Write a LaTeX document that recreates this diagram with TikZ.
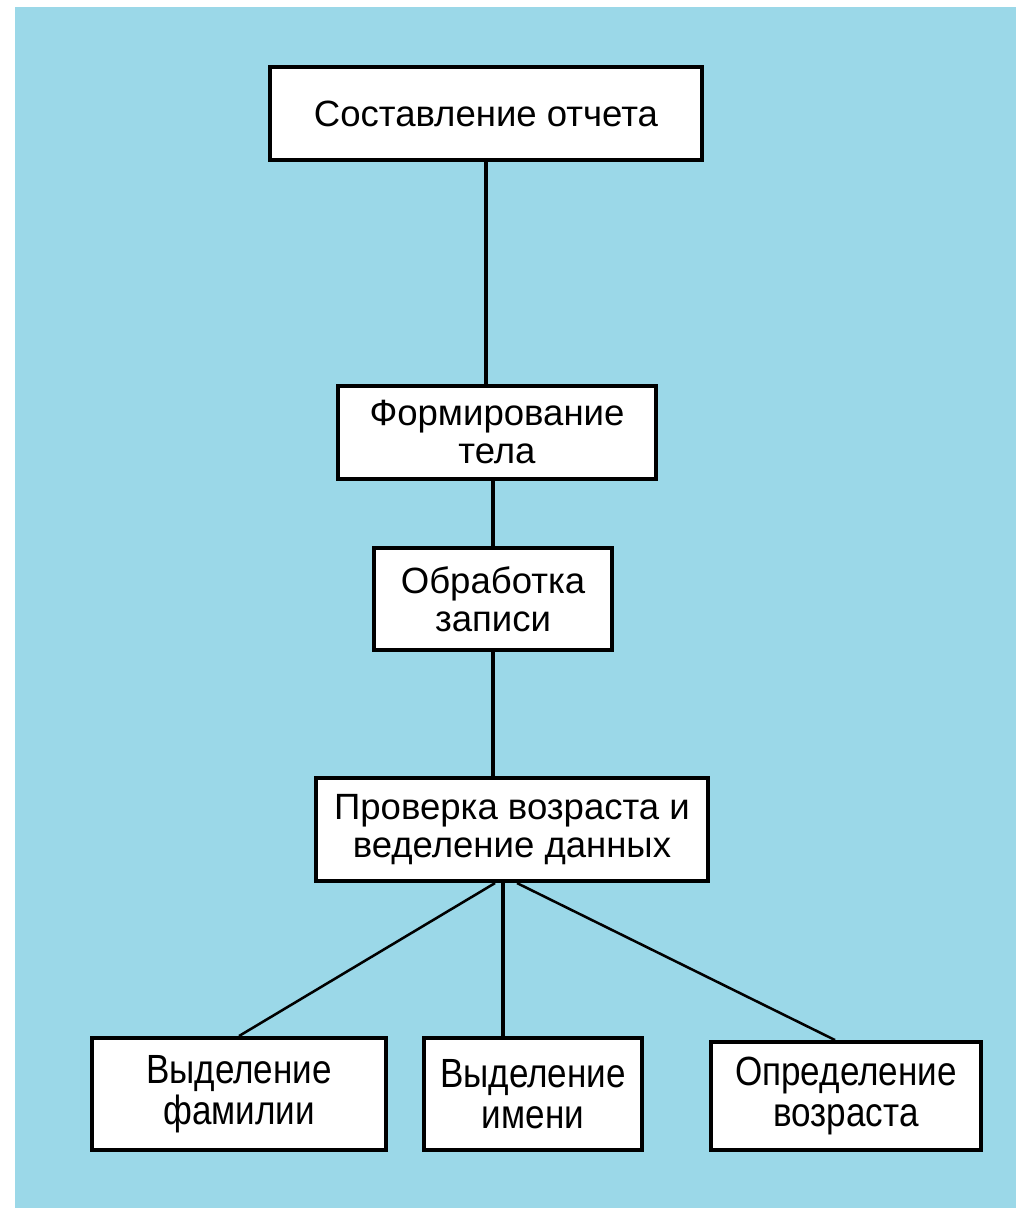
\documentclass[tikz,border=0pt]{standalone}
\usepackage{fontspec}
\setmainfont{Liberation Sans}
\newfontfamily\narrowsans[FakeStretch=0.86]{Liberation Sans}
\definecolor{skyback}{RGB}{155,216,232}
\tikzset{
  block/.style={draw, line width=2.8pt, fill=white, align=center, inner sep=0pt,
    font=\fontsize{26}{27}\selectfont},
  lowblock/.style={block, font=\narrowsans\fontsize{29}{29}\selectfont},
  link/.style={line width=2.5pt},
  slant/.style={line width=1.8pt}
}
\begin{document}
\begin{tikzpicture}
\useasboundingbox (0,0) rectangle (25.4,-30.2);
\fill[skyback] (0.375,-0.175) rectangle (25.4,-30.2);
% upper chain
\node[block, minimum width=10.8cm, minimum height=2.325cm] (report) at (12.15,-2.84) {Составление отчета};
\node[block, minimum width=7.95cm, minimum height=2.325cm] (body) at (12.425,-10.81) {Формирование\\тела};
\node[block, minimum width=5.95cm, minimum height=2.55cm] (rec) at (12.325,-14.975) {Обработка\\записи};
\node[block, minimum width=9.8cm, minimum height=2.575cm] (check) at (12.8,-20.74) {Проверка возраста и\\веделение данных};
% lower row
\node[lowblock, minimum width=7.35cm, minimum height=2.8cm] (surname) at (5.975,-27.35) {Выделение\\фамилии};
\node[lowblock, minimum width=5.45cm, minimum height=2.8cm] (name) at (13.325,-27.35) {Выделение\\имени};
\node[lowblock, minimum width=6.75cm, minimum height=2.7cm] (age) at (21.15,-27.4) {Определение\\возраста};
% links
\draw[link] (report.south) -- (report.south |- body.north);
\draw[link] (rec.north) -- (rec.north |- body.south);
\draw[link] (rec.south) -- (rec.south |- check.north);
\coordinate (fork) at ([xshift=-0.225cm]check.south);
\draw[link] (fork) -- (fork |- name.north);
\draw[slant] ([xshift=-0.425cm]check.south) -- (surname.north);
\draw[slant] ([xshift=0.125cm]check.south) -- ([xshift=-0.275cm]age.north);
\end{tikzpicture}
\end{document}
